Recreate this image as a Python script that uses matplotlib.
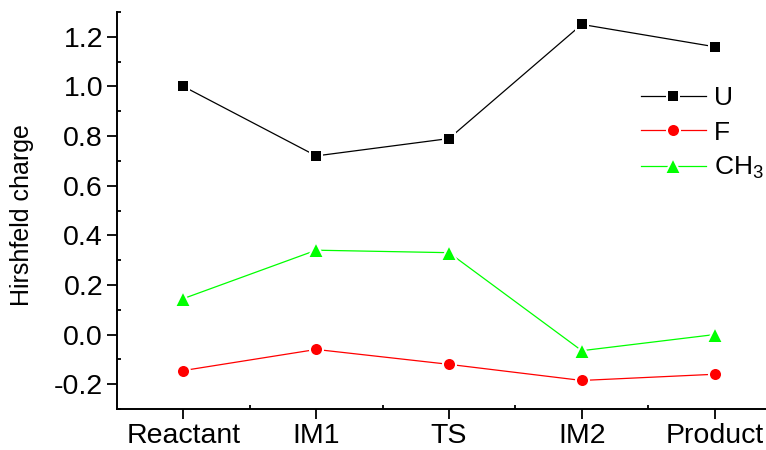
import matplotlib
matplotlib.use("Agg")
import matplotlib.pyplot as plt
from matplotlib.ticker import MultipleLocator, FixedLocator, FuncFormatter
from matplotlib.lines import Line2D

plt.rcParams['font.family'] = ['Liberation Sans', 'DejaVu Sans']
plt.rcParams['mathtext.fontset'] = 'custom'
plt.rcParams['mathtext.rm'] = 'Liberation Sans'
plt.rcParams['mathtext.it'] = 'Liberation Sans:italic'

# Reaction path stages and Hirshfeld charges of each fragment
stages = ["Reactant", "IM1", "TS", "IM2", "Product"]
charge_U = [1.00, 0.72, 0.79, 1.25, 1.16]
charge_F = [-0.145, -0.06, -0.12, -0.185, -0.16]
charge_CH3 = [0.145, 0.34, 0.33, -0.065, 0.00]

series = [
    ("U", charge_U, "#000000", "s", 8.6),
    ("F", charge_F, "#FF0000", "o", 9.4),
    ("CH$_3$", charge_CH3, "#00FF00", "^", 11.0),
]

fig = plt.figure(figsize=(7.66, 4.5), dpi=100)
ax = fig.add_axes([117 / 766, 1 - 409 / 450, 664 / 766, 397 / 450])

x = list(range(1, len(stages) + 1))
handles = []
for label, vals, color, marker, ms in series:
    ax.plot(x, vals, color=color, lw=0.9, zorder=2)
    ax.plot(x, vals, linestyle="none", marker=marker, markersize=ms,
            markerfacecolor=color, markeredgecolor="white",
            markeredgewidth=1.44, zorder=3)
    handles.append(Line2D([], [], color=color, lw=0.9, marker=marker,
                          markersize=ms, markerfacecolor=color,
                          markeredgecolor="white", markeredgewidth=1.44,
                          label=label))

ax.set_xlim(0.5, 5.5)
ax.set_ylim(-0.3, 1.3)
ax.xaxis.set_major_locator(FixedLocator(x))
ax.set_xticklabels(stages)
ax.xaxis.set_minor_locator(FixedLocator([1.5, 2.5, 3.5, 4.5]))
ax.yaxis.set_major_locator(MultipleLocator(0.2))
ax.yaxis.set_minor_locator(MultipleLocator(0.1))
ax.yaxis.set_major_formatter(FuncFormatter(lambda v, p: f"{v:.1f}"))

for side in ("top", "right"):
    ax.spines[side].set_visible(False)
for side in ("left", "bottom"):
    ax.spines[side].set_linewidth(1.4)

ax.tick_params(which="major", direction="out", length=7, width=1.3,
               labelsize=20.5, pad=3)
ax.tick_params(which="minor", direction="in", length=3, width=1.3)

fig.text(22 / 766, 1 - 215 / 450, "Hirshfeld charge", rotation=90,
         fontsize=18, ha="center", va="center")

leg = ax.legend(handles=handles, loc="upper left",
                bbox_to_anchor=(641 / 766, 1 - 86 / 450),
                bbox_transform=fig.transFigure, frameon=False,
                fontsize=19, handlelength=2.46, handletextpad=0.3,
                labelspacing=0.4, borderpad=0, borderaxespad=0)

fig.savefig("out.png", dpi=100)
